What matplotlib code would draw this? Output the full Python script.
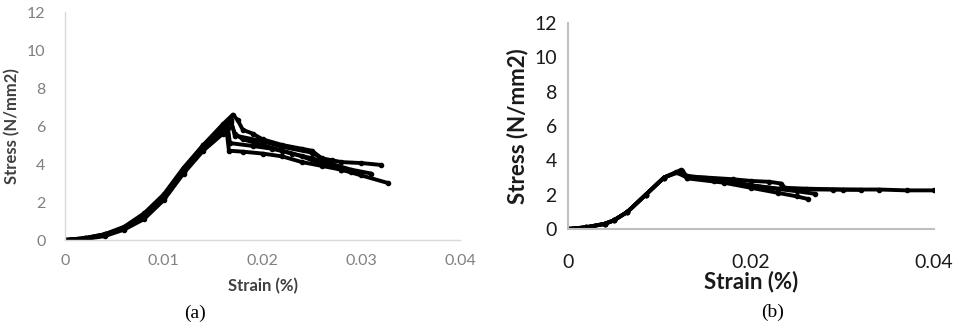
import matplotlib
matplotlib.use("Agg")
import matplotlib.pyplot as plt

# ---------------- data: panel (a) ----------------
a1_strain = [0, 0.002, 0.004, 0.006, 0.008, 0.010, 0.012, 0.014, 0.016, 0.0170, 0.0175, 0.018, 0.019, 0.020, 0.022, 0.024, 0.025, 0.026, 0.027, 0.028, 0.030, 0.032]
a1_stress = [0, 0.1, 0.3, 0.65, 1.3, 2.3, 3.7, 5.0, 6.1, 6.6, 6.3, 5.8, 5.6, 5.3, 5.0, 4.8, 4.7, 4.3, 4.2, 4.1, 4.05, 3.95]
a2_strain = [0, 0.002, 0.004, 0.006, 0.008, 0.010, 0.012, 0.014, 0.016, 0.0168, 0.0172, 0.018, 0.020, 0.022, 0.024, 0.026, 0.028, 0.030, 0.0327]
a2_stress = [0, 0.08, 0.25, 0.6, 1.2, 2.2, 3.6, 4.8, 5.8, 6.2, 5.6, 5.3, 5.0, 4.7, 4.4, 4.0, 3.7, 3.4, 3.0]
a3_strain = [0, 0.002, 0.004, 0.006, 0.008, 0.010, 0.012, 0.014, 0.0160, 0.0164, 0.0166, 0.018, 0.020, 0.022, 0.024, 0.026, 0.028, 0.030]
a3_stress = [0, 0.1, 0.3, 0.7, 1.4, 2.4, 3.8, 5.0, 5.7, 5.6, 4.7, 4.65, 4.55, 4.4, 4.1, 3.9, 3.7, 3.5]
a4_strain = [0, 0.002, 0.004, 0.006, 0.008, 0.010, 0.012, 0.014, 0.016, 0.0165, 0.0167, 0.019, 0.021, 0.023, 0.025, 0.027, 0.029, 0.031]
a4_stress = [0, 0.05, 0.2, 0.55, 1.1, 2.1, 3.5, 4.7, 5.6, 5.9, 5.1, 4.95, 4.8, 4.55, 4.3, 4.0, 3.7, 3.5]
a5_strain = [0, 0.002, 0.004, 0.006, 0.008, 0.010, 0.012, 0.014, 0.016, 0.0168, 0.0172, 0.020, 0.022, 0.025, 0.027, 0.029]
a5_stress = [0, 0.07, 0.28, 0.62, 1.25, 2.25, 3.65, 4.9, 5.9, 6.3, 5.5, 5.2, 4.9, 4.6, 4.0, 3.6]

# ---------------- data: panel (b) ----------------
b1_strain = [0, 0.002, 0.004, 0.005, 0.0065, 0.0085, 0.0105, 0.012, 0.0125, 0.013, 0.015, 0.018, 0.020, 0.022, 0.0233, 0.0237, 0.026, 0.030, 0.034, 0.037, 0.040]
b1_stress = [0, 0.1, 0.3, 0.5, 1.0, 2.0, 3.0, 3.3, 3.4, 3.05, 3.0, 2.9, 2.8, 2.75, 2.65, 2.4, 2.35, 2.3, 2.3, 2.25, 2.25]
b2_strain = [0, 0.002, 0.004, 0.005, 0.0065, 0.0085, 0.0105, 0.0124, 0.013, 0.017, 0.020, 0.023, 0.025, 0.0262]
b2_stress = [0, 0.1, 0.3, 0.5, 1.0, 2.0, 3.0, 3.45, 2.95, 2.7, 2.4, 2.1, 1.9, 1.75]
b3_strain = [0, 0.002, 0.004, 0.005, 0.0065, 0.0085, 0.0105, 0.0118, 0.013, 0.016, 0.019, 0.022, 0.025, 0.027]
b3_stress = [0, 0.1, 0.3, 0.5, 1.0, 2.0, 3.0, 3.3, 3.0, 2.8, 2.6, 2.4, 2.2, 2.05]
b4_strain = [0, 0.002, 0.004, 0.005, 0.0065, 0.0085, 0.0105, 0.0122, 0.013, 0.017, 0.020, 0.023, 0.026, 0.029, 0.032]
b4_stress = [0, 0.1, 0.3, 0.5, 1.0, 2.0, 3.0, 3.35, 3.1, 2.85, 2.55, 2.35, 2.3, 2.3, 2.28]

x_ticks_a = [0, 0.01, 0.02, 0.03, 0.04]
x_labels_a = ["0", "0.01", "0.02", "0.03", "0.04"]
x_ticks_b = [0, 0.02, 0.04]
x_labels_b = ["0", "0.02", "0.04"]
y_ticks = [0, 2, 4, 6, 8, 10, 12]

series_a = [(a1_strain, a1_stress), (a2_strain, a2_stress), (a3_strain, a3_stress),
            (a4_strain, a4_stress), (a5_strain, a5_stress)]
series_b = [(b1_strain, b1_stress), (b2_strain, b2_stress), (b3_strain, b3_stress),
            (b4_strain, b4_stress)]

FONT = "Lato"

fig = plt.figure(figsize=(9.6, 3.26), dpi=100)

# panel (a)
axa = fig.add_axes([65/960, 1-240/326, 395/960, 228/326])
for s, v in series_a:
    axa.plot(s, v, color="black", lw=2.8, marker="o", ms=3.0, solid_capstyle="round")
axa.set_xlim(0, 0.04)
axa.set_ylim(0, 12)
axa.set_xticks(x_ticks_a)
axa.set_xticklabels(x_labels_a)
axa.set_yticks(y_ticks)
for sp in ["top", "right"]:
    axa.spines[sp].set_visible(False)
for sp in ["left", "bottom"]:
    axa.spines[sp].set_color("#d9d9d9")
    axa.spines[sp].set_linewidth(1.0)
axa.tick_params(length=0, labelsize=11.5, colors="#808080")
axa.tick_params(axis="x", pad=10)
axa.tick_params(axis="y", pad=14)
for lab in axa.get_xticklabels() + axa.get_yticklabels():
    lab.set_family(FONT)
axa.set_xlabel("Strain (%)", family=FONT, fontweight="bold", fontsize=12, color="#404040", labelpad=7)
axa.set_ylabel("Stress (N/mm2)", family=FONT, fontweight="bold", fontsize=12, color="#404040", labelpad=5)

# panel (b)
axb = fig.add_axes([568/960, 1-229/326, 366/960, 206/326])
for s, v in series_b:
    axb.plot(s, v, color="black", lw=2.8, marker="o", ms=3.0, solid_capstyle="round")
axb.set_xlim(0, 0.04)
axb.set_ylim(0, 12)
axb.set_xticks(x_ticks_b)
axb.set_xticklabels(x_labels_b)
axb.set_yticks(y_ticks)
for sp in ["top", "right"]:
    axb.spines[sp].set_visible(False)
for sp in ["left", "bottom"]:
    axb.spines[sp].set_color("#bfbfbf")
    axb.spines[sp].set_linewidth(1.5)
axb.tick_params(length=0, labelsize=14, colors="#1a1a1a", pad=8)
axb.tick_params(axis="x", pad=18)
for lab in axb.get_xticklabels() + axb.get_yticklabels():
    lab.set_family(FONT)
axb.set_xlabel("Strain (%)", family=FONT, fontweight="bold", fontsize=16, color="#1a1a1a", labelpad=0)
axb.set_ylabel("Stress (N/mm2)", family=FONT, fontweight="bold", fontsize=16, color="#1a1a1a", labelpad=4)

fig.text(195/960, 1-313/326, "(a)", family=["Liberation Serif", "DejaVu Serif"], fontsize=14, ha="center", va="center")
fig.text(773/960, 1-312/326, "(b)", family=["Liberation Serif", "DejaVu Serif"], fontsize=14, ha="center", va="center")

fig.savefig("out.png", dpi=100)
